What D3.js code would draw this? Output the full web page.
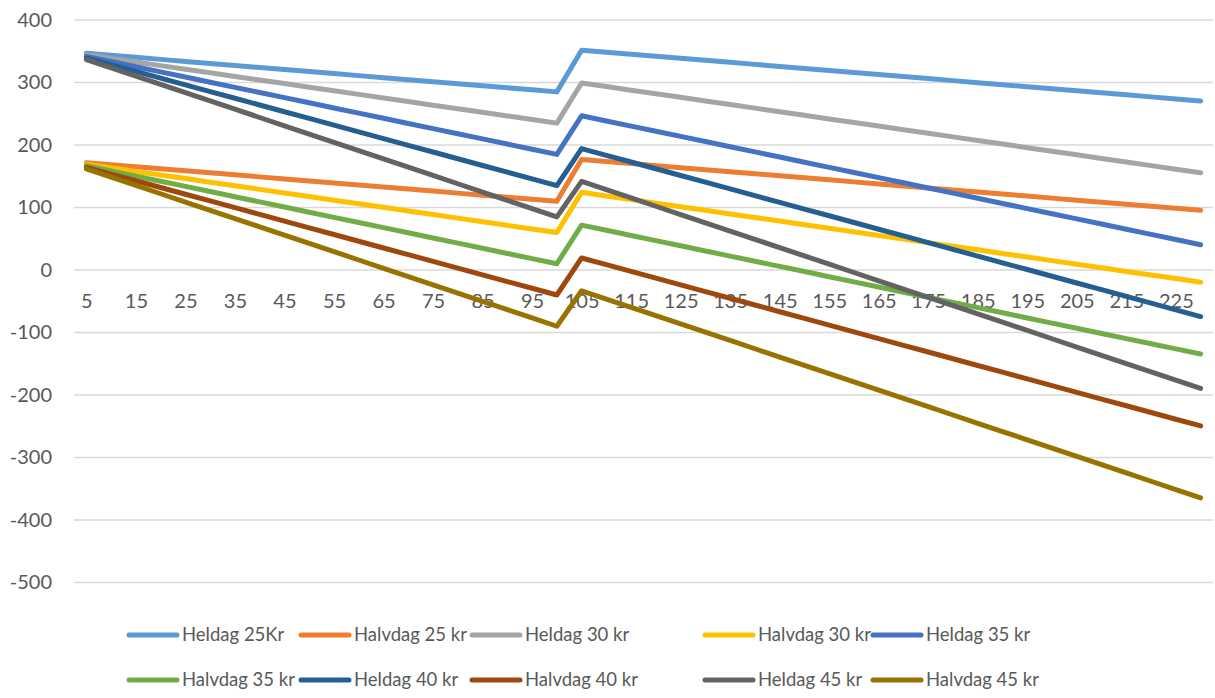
<!DOCTYPE html>
<html>
<head>
<meta charset="utf-8">
<script src="https://d3js.org/d3.v7.min.js"></script>
<style>
  body { margin: 0; background: #ffffff; }
  text { font-family: Lato, "Open Sans", sans-serif; fill: #595959; }
</style>
</head>
<body>
<div id="chart"></div>
<script>
// Categories on the x axis
var categories = [5, 10, 15, 20, 25, 30, 35, 40, 45, 50, 55, 60, 65, 70, 75, 80, 85, 90, 95, 100,
  105, 110, 115, 120, 125, 130, 135, 140, 145, 150, 155, 160, 165, 170, 175, 180, 185, 190, 195, 200,
  205, 210, 215, 220, 225, 230];

// Series names and values
var seriesNames = ["Heldag 25Kr", "Halvdag 25 kr", "Heldag 30 kr", "Halvdag 30 kr", "Heldag 35 kr",
  "Halvdag 35 kr", "Heldag 40 kr", "Halvdag 40 kr", "Heldag 45 kr", "Halvdag 45 kr"];

var heldag25 = [346.75, 343.5, 340.25, 337, 333.75, 330.5, 327.25, 324, 320.75, 317.5, 314.25, 311, 307.75, 304.5, 301.25, 298, 294.75, 291.5, 288.25, 285,
  351.75, 348.5, 345.25, 342, 338.75, 335.5, 332.25, 329, 325.75, 322.5, 319.25, 316, 312.75, 309.5, 306.25, 303, 299.75, 296.5, 293.25, 290,
  286.75, 283.5, 280.25, 277, 273.75, 270.5];
var halvdag25 = [171.75, 168.5, 165.25, 162, 158.75, 155.5, 152.25, 149, 145.75, 142.5, 139.25, 136, 132.75, 129.5, 126.25, 123, 119.75, 116.5, 113.25, 110,
  176.75, 173.5, 170.25, 167, 163.75, 160.5, 157.25, 154, 150.75, 147.5, 144.25, 141, 137.75, 134.5, 131.25, 128, 124.75, 121.5, 118.25, 115,
  111.75, 108.5, 105.25, 102, 98.75, 95.5];
var heldag30 = [344.25, 338.5, 332.75, 327, 321.25, 315.5, 309.75, 304, 298.25, 292.5, 286.75, 281, 275.25, 269.5, 263.75, 258, 252.25, 246.5, 240.75, 235,
  299.25, 293.5, 287.75, 282, 276.25, 270.5, 264.75, 259, 253.25, 247.5, 241.75, 236, 230.25, 224.5, 218.75, 213, 207.25, 201.5, 195.75, 190,
  184.25, 178.5, 172.75, 167, 161.25, 155.5];
var halvdag30 = [169.25, 163.5, 157.75, 152, 146.25, 140.5, 134.75, 129, 123.25, 117.5, 111.75, 106, 100.25, 94.5, 88.75, 83, 77.25, 71.5, 65.75, 60,
  124.25, 118.5, 112.75, 107, 101.25, 95.5, 89.75, 84, 78.25, 72.5, 66.75, 61, 55.25, 49.5, 43.75, 38, 32.25, 26.5, 20.75, 15,
  9.25, 3.5, -2.25, -8, -13.75, -19.5];
var heldag35 = [341.75, 333.5, 325.25, 317, 308.75, 300.5, 292.25, 284, 275.75, 267.5, 259.25, 251, 242.75, 234.5, 226.25, 218, 209.75, 201.5, 193.25, 185,
  246.75, 238.5, 230.25, 222, 213.75, 205.5, 197.25, 189, 180.75, 172.5, 164.25, 156, 147.75, 139.5, 131.25, 123, 114.75, 106.5, 98.25, 90,
  81.75, 73.5, 65.25, 57, 48.75, 40.5];
var halvdag35 = [166.75, 158.5, 150.25, 142, 133.75, 125.5, 117.25, 109, 100.75, 92.5, 84.25, 76, 67.75, 59.5, 51.25, 43, 34.75, 26.5, 18.25, 10,
  71.75, 63.5, 55.25, 47, 38.75, 30.5, 22.25, 14, 5.75, -2.5, -10.75, -19, -27.25, -35.5, -43.75, -52, -60.25, -68.5, -76.75, -85,
  -93.25, -101.5, -109.75, -118, -126.25, -134.5];
var heldag40 = [339.25, 328.5, 317.75, 307, 296.25, 285.5, 274.75, 264, 253.25, 242.5, 231.75, 221, 210.25, 199.5, 188.75, 178, 167.25, 156.5, 145.75, 135,
  194.25, 183.5, 172.75, 162, 151.25, 140.5, 129.75, 119, 108.25, 97.5, 86.75, 76, 65.25, 54.5, 43.75, 33, 22.25, 11.5, 0.75, -10,
  -20.75, -31.5, -42.25, -53, -63.75, -74.5];
var halvdag40 = [164.25, 153.5, 142.75, 132, 121.25, 110.5, 99.75, 89, 78.25, 67.5, 56.75, 46, 35.25, 24.5, 13.75, 3, -7.75, -18.5, -29.25, -40,
  19.25, 8.5, -2.25, -13, -23.75, -34.5, -45.25, -56, -66.75, -77.5, -88.25, -99, -109.75, -120.5, -131.25, -142, -152.75, -163.5, -174.25, -185,
  -195.75, -206.5, -217.25, -228, -238.75, -249.5];
var heldag45 = [336.75, 323.5, 310.25, 297, 283.75, 270.5, 257.25, 244, 230.75, 217.5, 204.25, 191, 177.75, 164.5, 151.25, 138, 124.75, 111.5, 98.25, 85,
  141.75, 128.5, 115.25, 102, 88.75, 75.5, 62.25, 49, 35.75, 22.5, 9.25, -4, -17.25, -30.5, -43.75, -57, -70.25, -83.5, -96.75, -110,
  -123.25, -136.5, -149.75, -163, -176.25, -189.5];
var halvdag45 = [161.75, 148.5, 135.25, 122, 108.75, 95.5, 82.25, 69, 55.75, 42.5, 29.25, 16, 2.75, -10.5, -23.75, -37, -50.25, -63.5, -76.75, -90,
  -33.25, -46.5, -59.75, -73, -86.25, -99.5, -112.75, -126, -139.25, -152.5, -165.75, -179, -192.25, -205.5, -218.75, -232, -245.25, -258.5, -271.75, -285,
  -298.25, -311.5, -324.75, -338, -351.25, -364.5];

var seriesValues = [heldag25, halvdag25, heldag30, halvdag30, heldag35, halvdag35, heldag40, halvdag40, heldag45, halvdag45];

// y tick values
var yTicks = [-500, -400, -300, -200, -100, 0, 100, 200, 300, 400];

// Office colour palette
var colors = ["#5B9BD5", "#ED7D31", "#A5A5A5", "#FFC000", "#4472C4",
  "#70AD47", "#255E91", "#9E480E", "#636363", "#997300"];

// SVG area
var svgWidth = 1215;
var svgHeight = 698;

var plot = { left: 74, right: 1213, top: 20, bottom: 582.5 };

var svg = d3.select("#chart")
  .append("svg")
  .attr("width", svgWidth)
  .attr("height", svgHeight);

// Scales
var xScale = d3.scalePoint()
  .domain(categories)
  .range([plot.left, plot.right])
  .padding(0.5);

var yScale = d3.scaleLinear()
  .domain([-500, 400])
  .range([plot.bottom, plot.top]);

// Horizontal gridlines
svg.append("g")
  .selectAll("line")
  .data(yTicks)
  .enter()
  .append("line")
  .attr("x1", plot.left)
  .attr("x2", plot.right)
  .attr("y1", d => yScale(d))
  .attr("y2", d => yScale(d))
  .attr("stroke", "#D9D9D9")
  .attr("stroke-width", 1.3);

// y axis labels (plain hyphen for negatives, like Excel)
var leftAxis = d3.axisLeft(yScale)
  .tickValues(yTicks)
  .tickFormat(d => String(d))
  .tickSize(0)
  .tickPadding(0);

var yAxis = svg.append("g")
  .attr("transform", "translate(52, 0)")
  .call(leftAxis);
yAxis.select(".domain").remove();
yAxis.selectAll("text")
  .attr("font-size", 20)
  .attr("fill", "#595959")
  .attr("font-family", "Lato, sans-serif");

// x axis labels (every other category), sitting just below the zero line
var bottomAxis = d3.axisBottom(xScale)
  .tickValues(categories.filter((d, i) => i % 2 === 0))
  .tickSize(0)
  .tickPadding(0);

var xAxis = svg.append("g")
  .attr("transform", `translate(0, ${yScale(0) + 24})`)
  .call(bottomAxis);
xAxis.select(".domain").remove();
xAxis.selectAll("text")
  .attr("font-size", 20)
  .attr("fill", "#595959")
  .attr("font-family", "Lato, sans-serif");

// Lines
var line = d3.line()
  .x((d, i) => xScale(categories[i]))
  .y(d => yScale(d));

svg.append("g")
  .selectAll("path")
  .data(seriesValues)
  .enter()
  .append("path")
  .attr("d", d => line(d))
  .attr("fill", "none")
  .attr("stroke", (d, i) => colors[i])
  .attr("stroke-width", 5)
  .attr("stroke-linecap", "round")
  .attr("stroke-linejoin", "round");

// Legend, two rows of five
var legendCols = [129, 301, 472, 705, 873];
var legendRows = [635, 680];

var legend = svg.append("g")
  .selectAll("g")
  .data(seriesNames)
  .enter()
  .append("g")
  .attr("transform", (d, i) => `translate(${legendCols[i % 5]}, ${legendRows[Math.floor(i / 5)]})`);

legend.append("line")
  .attr("x1", 0)
  .attr("x2", 48)
  .attr("y1", 0)
  .attr("y2", 0)
  .attr("stroke", (d, i) => colors[i])
  .attr("stroke-width", 5)
  .attr("stroke-linecap", "round");

legend.append("text")
  .attr("x", 53)
  .attr("y", 0)
  .attr("dy", "0.35em")
  .attr("font-size", 18.5)
  .text(d => d);
</script>
</body>
</html>
